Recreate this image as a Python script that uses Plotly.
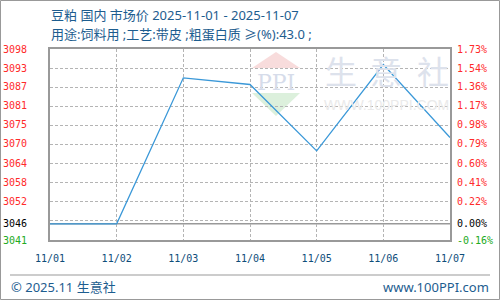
import plotly.graph_objects as go

# ---- data ----
dates = ["11/01", "11/02", "11/03", "11/04", "11/05", "11/06", "11/07"]
prices = [3046, 3046, 3090, 3088, 3068, 3094, 3072]
base_price = 3046
pct_ticks = [-0.16, 0.00, 0.22, 0.41, 0.60, 0.79, 0.98, 1.17, 1.36, 1.54, 1.73]
price_labels = ["3041", "3046", "3052", "3058", "3064", "3070", "3075", "3081", "3087", "3093", "3098"]
pct_labels = ["-0.16%", "0.00%", "0.22%", "0.41%", "0.60%", "0.79%", "0.98%", "1.17%", "1.36%", "1.54%", "1.73%"]
title1 = "豆粕 国内 市场价 2025-11-01 - 2025-11-07"
title2 = "用途:饲料用 ;工艺:带皮 ;粗蛋白质 ≥(%):43.0 ;"
footer_left = "© 2025.11 生意社"
footer_right = "www.100PPI.com"

W, H = 500, 300
L, R, T, B = 50, 50, 49, 60
PW, PH = W - L - R, H - T - B


def px(x):
    return (x - L) / PW


def py(y):
    return (H - B - y) / PH


def colorize(labels, vals):
    out = []
    for lab, v in zip(labels, vals):
        c = "#ff2a2a" if v > 0 else ("#000000" if v == 0 else "#22aa22")
        out.append(f"<span style='color:{c}'>{lab}</span>")
    return out


ymin_pct, ymax_pct = pct_ticks[0], pct_ticks[-1]
yrange = [base_price * (1 + ymin_pct / 100), base_price * (1 + ymax_pct / 100)]
step = (ymax_pct - ymin_pct) / 10
grid_pct = [ymin_pct + k * step for k in range(11)]
grid_vals = [base_price * (1 + p / 100) for p in grid_pct]
label_vals = [base_price * (1 + p / 100) for p in pct_ticks]

GRID = "#b4b4b4"

fig = go.Figure()
fig.add_trace(go.Scatter(x=[0], y=[0], yaxis="y2", mode="markers",
                         marker=dict(opacity=0), showlegend=False, hoverinfo="skip"))
fig.add_trace(go.Scatter(x=list(range(len(dates))), y=prices, mode="lines",
                         line=dict(color="#3a98d8", width=1.3), showlegend=False, hoverinfo="skip"))

tickfont = dict(family="DejaVu Sans Mono", size=10)

fig.update_layout(
    template="none",
    width=W, height=H, margin=dict(l=L, r=R, t=T, b=B, autoexpand=False),
    paper_bgcolor="white", plot_bgcolor="white",
    xaxis=dict(range=[0, len(dates) - 1], tickvals=list(range(len(dates))), ticktext=dates,
               showgrid=True, gridcolor=GRID, gridwidth=1, griddash="3px,2px",
               showline=True, linecolor="#999999", linewidth=1.5, mirror=True,
               ticks="", tickfont=dict(family="DejaVu Sans Mono", size=10, color="#0e4d7a"),
               ticklabelstandoff=8, zeroline=False, automargin=False),
    yaxis=dict(range=yrange, tickvals=grid_vals, ticktext=[""] * len(grid_vals),
               showgrid=True, gridcolor=GRID, gridwidth=1, griddash="3px,2px",
               showline=True, linecolor="#999999", linewidth=1.5, mirror=True,
               ticks="", zeroline=False, automargin=False),
    yaxis2=dict(range=[ymin_pct, ymax_pct], overlaying="y", side="right",
                tickvals=pct_ticks, ticktext=colorize(pct_labels, pct_ticks),
                showgrid=False, showline=False, ticks="", tickfont=tickfont,
                ticklabelstandoff=6, zeroline=False, automargin=False),
    yaxis3=dict(range=yrange, overlaying="y", side="left", anchor="x",
                tickvals=label_vals, ticktext=colorize(price_labels, pct_ticks),
                showgrid=False, showline=False, ticks="", tickfont=tickfont,
                ticklabelstandoff=22, zeroline=False, automargin=False),
)
fig.add_trace(go.Scatter(x=[0], y=[base_price], yaxis="y3", mode="markers",
                         marker=dict(opacity=0), showlegend=False, hoverinfo="skip"))

shapes = []
shapes.append(dict(type="line", xref="paper", yref="y", x0=0, x1=1, y0=base_price, y1=base_price,
                   line=dict(color="#999999", width=1.5), layer="below"))
shapes.append(dict(type="path", xref="paper", yref="paper",
                   path=f"M {px(252)},{py(68)} L {px(276)},{py(52)} L {px(300)},{py(68)} Z",
                   fillcolor="#f8dcdc", line=dict(width=0), layer="below"))
shapes.append(dict(type="path", xref="paper", yref="paper",
                   path=f"M {px(252)},{py(93)} L {px(276)},{py(116)} L {px(300)},{py(93)} Z",
                   fillcolor="#dcf0dc", line=dict(width=0), layer="below"))
shapes.append(dict(type="rect", xref="paper", yref="paper",
                   x0=px(0.5), x1=px(499.5), y0=py(0.5), y1=py(299.5),
                   line=dict(color="#999999", width=1)))
shapes.append(dict(type="line", xref="paper", yref="paper",
                   x0=px(10), x1=px(490), y0=py(275), y1=py(275),
                   line=dict(color="#999999", width=1)))
fig.update_layout(shapes=shapes)

TFONT = "Noto Sans, Noto Sans CJK SC"
ann = []
ann.append(dict(text="PPI", xref="paper", yref="paper", x=px(276), y=py(82), showarrow=False,
                font=dict(family="DejaVu Serif", size=22, color="#d6dcea"), xanchor="center", yanchor="middle"))
for ch, cx in zip(["生", "意", "社"], [341, 386, 433]):
    ann.append(dict(text=ch, xref="paper", yref="paper", x=px(cx), y=py(70), showarrow=False,
                    font=dict(family="Noto Sans CJK SC", size=32, color="#dde2ec"),
                    xanchor="center", yanchor="middle"))
ann.append(dict(text="WWW.100PPI.COM", xref="paper", yref="paper", x=px(386), y=py(105), showarrow=False,
                font=dict(family="Liberation Sans", size=14, color="#eaeaea"),
                xanchor="center", yanchor="middle"))
for txt, yy in [(title1, 15), (title2, 34)]:
    ann.append(dict(text=txt, xref="paper", yref="paper", x=px(50), y=py(yy), showarrow=False,
                    font=dict(family=TFONT, size=13, color="#1d5d8f"),
                    xanchor="left", yanchor="middle", align="left", borderpad=0))
ann.append(dict(text=footer_left, xref="paper", yref="paper", x=px(10), y=py(287), showarrow=False,
                font=dict(family=TFONT, size=13, color="#1d5d8f"),
                xanchor="left", yanchor="middle", align="left", borderpad=0))
ann.append(dict(text=footer_right, xref="paper", yref="paper", x=px(490), y=py(287), showarrow=False,
                font=dict(family=TFONT, size=13, color="#1d5d8f"),
                xanchor="right", yanchor="middle", align="right", borderpad=0))
fig.update_layout(annotations=ann)

fig.write_html("out.html")
